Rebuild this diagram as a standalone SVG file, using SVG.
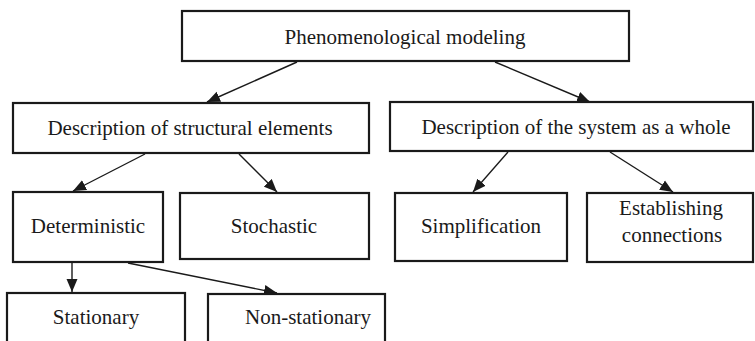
<svg xmlns="http://www.w3.org/2000/svg" width="755" height="341" viewBox="0 0 755 341">
<style>
.box{fill:#fff;stroke:#1a1a1a;stroke-width:2.2}
.t{font-family:'Liberation Serif','Times New Roman',serif;font-size:21px;fill:#1a1a1a;text-anchor:middle}
.c{stroke:#1a1a1a;stroke-width:1.4;fill:none;marker-end:url(#ah)}
</style>
<defs>
<marker id="ah" markerUnits="userSpaceOnUse" markerWidth="14" markerHeight="12" viewBox="0 0 14 12" refX="13" refY="6" orient="auto">
<path d="M0,0.5 L13,6 L0,11.5 Z" fill="#1a1a1a"/>
</marker>
</defs>
<rect width="755" height="341" fill="#fff"/>
<g id="connectors">
<line class="c" x1="297" y1="62" x2="207" y2="102"/>
<line class="c" x1="495" y1="62" x2="590" y2="102"/>
<line class="c" x1="145" y1="154" x2="73" y2="191"/>
<line class="c" x1="239" y1="154" x2="277" y2="192"/>
<line class="c" x1="508" y1="152" x2="473" y2="192"/>
<line class="c" x1="610" y1="152" x2="673" y2="192"/>
<line class="c" x1="72" y1="263" x2="72" y2="292"/>
<line class="c" x1="128" y1="263" x2="277" y2="293"/>
</g>
<g id="n-phenom"><rect class="box" x="182" y="11" width="447" height="50"/><text class="t" x="405" y="44">Phenomenological modeling</text></g>
<g id="n-struct"><rect class="box" x="13" y="103" width="356" height="50"/><text class="t" x="190" y="135">Description of structural elements</text></g>
<g id="n-system"><rect class="box" x="390" y="102" width="363" height="49"/><text class="t" x="576" y="134">Description of the system as a whole</text></g>
<g id="n-determ"><rect class="box" x="13" y="192" width="150" height="70"/><text class="t" x="88" y="233">Deterministic</text></g>
<g id="n-stoch"><rect class="box" x="180" y="193" width="189" height="66"/><text class="t" x="274" y="233">Stochastic</text></g>
<g id="n-simpl"><rect class="box" x="395" y="193" width="172" height="68"/><text class="t" x="481" y="233">Simplification</text></g>
<g id="n-estab"><rect class="box" x="587" y="193" width="166" height="69"/><text class="t" x="671" y="215">Establishing</text><text class="t" x="672" y="242">connections</text></g>
<g id="n-stat"><rect class="box" x="7" y="293" width="178" height="60"/><text class="t" x="96" y="324">Stationary</text></g>
<g id="n-nonstat"><rect class="box" x="208" y="294" width="177" height="60"/><text class="t" x="308" y="324">Non-stationary</text></g>
</svg>
